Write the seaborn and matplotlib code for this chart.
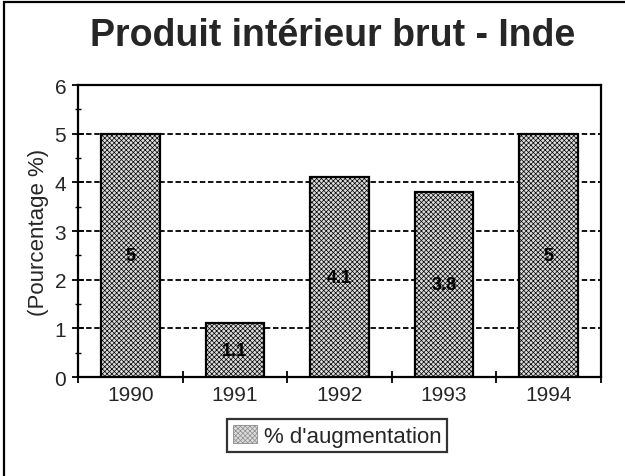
import matplotlib
matplotlib.use("Agg")
import matplotlib.pyplot as plt
import seaborn as sns
import pandas as pd
import numpy as np
from matplotlib.patches import Rectangle, Patch

years = ["1990", "1991", "1992", "1993", "1994"]
growth = [5.0, 1.1, 4.1, 3.8, 5.0]
bar_labels = ["5", "1.1", "4.1", "3.8", "5"]
series_name = "% d'augmentation"

df = pd.DataFrame({"Année": years, "Croissance": growth})

sns.set_style("white")
plt.rcParams['font.family'] = ['Liberation Sans', 'DejaVu Sans']
plt.rcParams['hatch.color'] = '#8c8c8c'
plt.rcParams['hatch.linewidth'] = 0.5

fig = plt.figure(figsize=(6.25, 4.77), dpi=100)
ax = fig.add_axes([0.1248, 0.2075, 0.8368, 0.6122])

sns.barplot(data=df, x="Année", y="Croissance", color="#dcdcdc", width=0.56,
            edgecolor="black", linewidth=1.6, ax=ax, zorder=3)
for p in ax.patches:
    p.set_hatch("xxxxxxx")

# value labels in the middle of each bar
for p, lab in zip(ax.patches, bar_labels):
    ax.text(p.get_x() + p.get_width() / 2, p.get_height() / 2, lab,
            ha="center", va="center", fontsize=13, fontweight="bold",
            color="black", zorder=10)

ax.set_xlim(-0.5, 4.5)
ax.set_ylim(0, 6)
ax.set_yticks(range(0, 7))
ax.set_yticks(np.arange(0.5, 6, 1.0), minor=True)
ax.set_xticks(np.arange(-0.5, 5, 1.0), minor=True)
ax.yaxis.grid(True, which="major", linestyle=(0, (3, 1.5)), color="black",
              linewidth=1.3, zorder=0)
ax.set_axisbelow(True)
for s in ["left", "bottom", "right", "top"]:
    ax.spines[s].set_visible(True)
    ax.spines[s].set_color("black")
    ax.spines[s].set_linewidth(1.6)
ax.tick_params(axis="y", which="major", direction="inout", length=9, width=1.3,
               labelsize=15, left=True, color="black", pad=4)
ax.tick_params(axis="y", which="minor", direction="inout", length=4, width=1.0,
               left=True, color="black")
ax.tick_params(axis="x", which="major", length=0, labelsize=15, pad=6)
ax.tick_params(axis="x", which="minor", direction="inout", length=8, width=1.3,
               bottom=True, color="black")
ax.set_xlabel("")
ax.set_ylabel("(Pourcentage %)", fontsize=16, labelpad=4)

fig.text(0.532, 0.925, "Produit intérieur brut - Inde", ha="center", va="center",
         fontsize=27, fontweight="bold")

handle = Patch(facecolor="#dcdcdc", edgecolor="#8c8c8c", hatch="xxxxxxx", linewidth=0.6)
leg = fig.legend([handle], [series_name], loc="center", bbox_to_anchor=(0.539, 0.084),
                 fontsize=16, frameon=True, fancybox=False, edgecolor="black",
                 handlelength=1.1, handleheight=0.9, handletextpad=0.3, borderpad=0.25)
leg.get_frame().set_linewidth(1.6)

# outer frame of the scanned page
fig.patches.append(Rectangle((0.007, -0.01), 1.1, 1.003, transform=fig.transFigure,
                             fill=False, edgecolor="black", linewidth=1.6))

fig.savefig("out.png", dpi=100)
